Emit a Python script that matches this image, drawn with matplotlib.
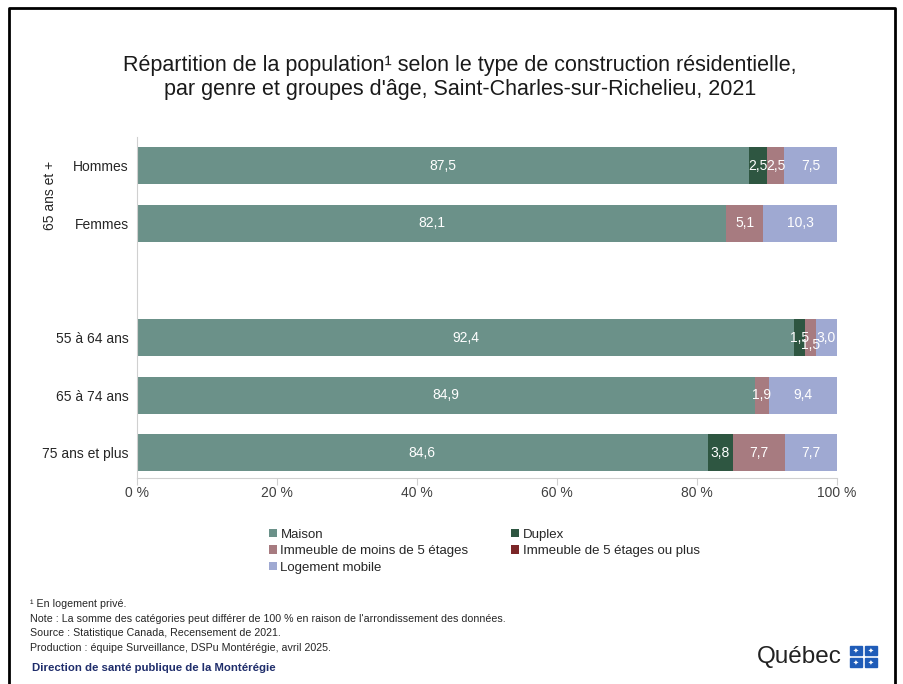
import numpy as np
import matplotlib.pyplot as plt
from matplotlib.patches import Rectangle
from matplotlib.lines import Line2D

# Données (pourcentages, lignes = catégories)
categories = ['Hommes', 'Femmes', '', '55 à 64 ans', '65 à 74 ans', '75 ans et plus']
maison = [87.5, 82.1, 0, 92.4, 84.9, 84.6]
duplex = [2.5, 0, 0, 1.5, 0, 3.8]
immeuble_moins5 = [2.5, 5.1, 0, 1.5, 1.9, 7.7]
immeuble_5plus = [0, 0, 0, 0, 0, 0]
logement_mobile = [7.5, 10.3, 0, 3.0, 9.4, 7.7]

series_noms = ['Maison', 'Duplex', 'Immeuble de moins de 5 étages',
               'Immeuble de 5 étages ou plus', 'Logement mobile']
couleurs = ['#6b9189', '#2e5641', '#a77b80', '#7b2628', '#9fa9d2']

plt.rcParams['font.family'] = ['Liberation Sans', 'DejaVu Sans']

fig = plt.figure(figsize=(9.04, 6.84), dpi=100)
ax = fig.add_axes([137/904, 1-478/684, 700/904, (478-137)/684])

valeurs = np.array([maison, duplex, immeuble_moins5, immeuble_5plus, logement_mobile], dtype=float)
totaux = valeurs.sum(axis=0)
totaux[totaux == 0] = 1
parts = valeurs / totaux * 100  # barres empilées à 100 %

y = np.arange(len(categories))
gauche = np.zeros(len(categories))
for i, nom in enumerate(series_noms):
    ax.barh(y, parts[i], left=gauche, height=0.645, color=couleurs[i], label=nom)
    for j in range(len(categories)):
        v = valeurs[i, j]
        if v > 0:
            dy = 0.13 if (j == 3 and i == 2) else 0
            ax.text(gauche[j] + parts[i, j] / 2, y[j] + dy, f'{v:.1f}'.replace('.', ','),
                    ha='center', va='center', color='white', fontsize=10)
    gauche += parts[i]

ax.set_xlim(0, 100)
ax.set_ylim(5.44, -0.5)
ax.set_yticks(y)
ax.set_yticklabels(categories, fontsize=10, color='#262626')
ax.tick_params(axis='y', length=0, pad=6)
ax.set_xticks([0, 20, 40, 60, 80, 100])
ax.set_xticklabels(['0 %', '20 %', '40 %', '60 %', '80 %', '100 %'], fontsize=10, color='#404040')
ax.tick_params(axis='x', length=5, color='#d0d0d0', pad=1)
for s in ['top', 'right']:
    ax.spines[s].set_visible(False)
for s in ['left', 'bottom']:
    ax.spines[s].set_color('#d0d0d0')

fig.text(50/904, 1-195/684, '65 ans et +', rotation=90, ha='center', va='center',
         fontsize=10, color='#262626')

# Titre
fig.text(460/904, 1-66/684, 'Répartition de la population¹ selon le type de construction résidentielle,',
         ha='center', va='center', fontsize=15.5, color='#1a1a1a')
fig.text(460/904, 1-90/684, "par genre et groupes d'âge, Saint-Charles-sur-Richelieu, 2021",
         ha='center', va='center', fontsize=15.5, color='#1a1a1a')

# Légende (ordre par lignes)
handles, labels = ax.get_legend_handles_labels()
ordre = [0, 2, 4, 1, 3]
fig.legend([handles[k] for k in ordre], [labels[k] for k in ordre], ncol=2,
           loc='upper left', bbox_to_anchor=(262/904, 1-522/684), frameon=False,
           fontsize=9.5, handlelength=0.6, handleheight=0.6, handletextpad=0.3,
           labelspacing=0.35, columnspacing=3.2, borderpad=0, labelcolor='#262626')

# Notes
notes = ['¹ En logement privé.',
         "Note : La somme des catégories peut différer de 100 % en raison de l'arrondissement des données.",
         'Source : Statistique Canada, Recensement de 2021.',
         'Production : équipe Surveillance, DSPu Montérégie, avril 2025.']
for k, t in enumerate(notes):
    fig.text(30/904, 1-(604 + k*14.6)/684, t, ha='left', va='center', fontsize=7.7,
             color='#262626')
fig.text(32/904, 1-668/684, 'Direction de santé publique de la Montérégie', ha='left', va='center',
         fontsize=8.2, color='#1f2d6b', fontweight='bold')

# Logo Québec
fig.text(757/904, 1-657/684, 'Québec', ha='left', va='center', fontsize=17.5, color='#222222')
for cx in [850, 865]:
    for cy in [646, 658]:
        fig.patches.append(Rectangle((cx/904, 1-(cy+9)/684), 12/904, 9/684,
                                     transform=fig.transFigure, color='#1f5cb8'))
        fig.text((cx+6)/904, 1-(cy+4.5)/684, '✦', ha='center', va='center',
                 fontsize=5, color='white', family=['DejaVu Sans'])

# Cadre
fig.add_artist(Line2D([9/904, 9/904, 895/904, 895/904], [0, 1-8/684, 1-8/684, 0],
                      transform=fig.transFigure, color='black', linewidth=2))

fig.savefig('out.png', dpi=100)
